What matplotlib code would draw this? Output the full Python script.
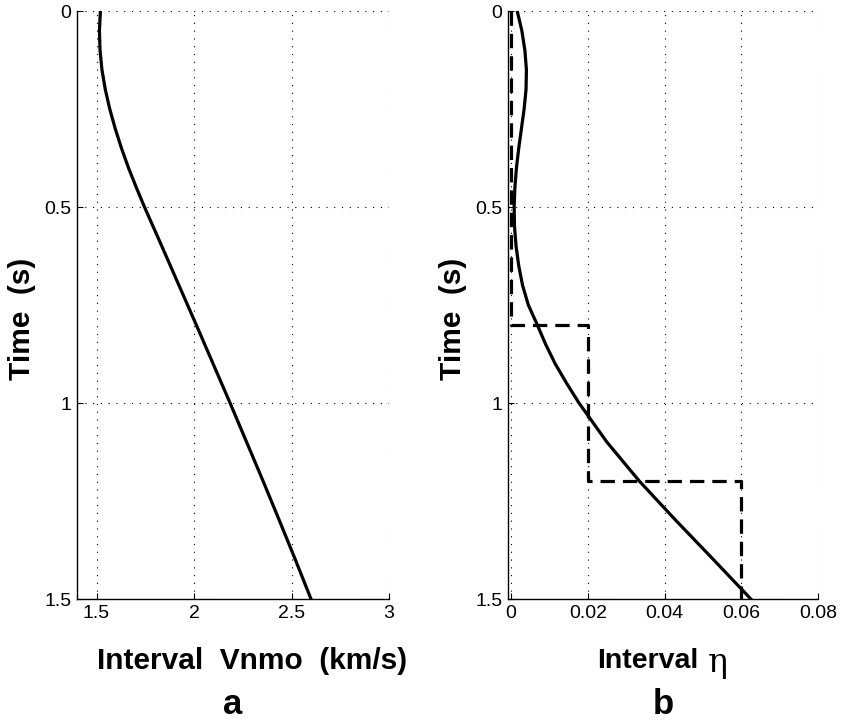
import numpy as np
import matplotlib
matplotlib.use("Agg")
import matplotlib.pyplot as plt

plt.rcParams['font.family'] = ['Liberation Sans', 'DejaVu Sans']

# donnees
t_vnmo = [0, 0.05, 0.1, 0.15, 0.2, 0.25, 0.3, 0.35, 0.4, 0.45, 0.5, 0.6,
          0.7, 0.8, 0.9, 1.0, 1.1, 1.2, 1.3, 1.4, 1.5]
vnmo = [1.52, 1.515, 1.518, 1.528, 1.545, 1.568, 1.596, 1.628, 1.664, 1.704,
        1.746, 1.835, 1.923, 2.011, 2.098, 2.185, 2.27, 2.355, 2.438, 2.52,
        2.60]

t_eta = [0, 0.05, 0.1, 0.15, 0.2, 0.25, 0.3, 0.35, 0.4, 0.45, 0.5, 0.55,
         0.6, 0.65, 0.7, 0.75, 0.8, 0.85, 0.9, 0.95, 1.0, 1.1, 1.2, 1.3,
         1.4, 1.5]
eta = [0.0016, 0.0028, 0.0036, 0.004, 0.0039, 0.0034, 0.0027, 0.002,
       0.0014, 0.001, 0.0008, 0.0009, 0.0013, 0.002, 0.003, 0.0045, 0.0068,
       0.009, 0.0115, 0.0145, 0.0177, 0.025, 0.0335, 0.043, 0.0528, 0.0625]

# modele par couches (tirets)
t_layers = [0, 0.8, 1.2, 1.5]
eta_layers = [0, 0.02, 0.06]

yticks = [0, 0.5, 1, 1.5]
ytick_labels = ["0", "0.5", "1", "1.5"]
xticks_a = [1.5, 2, 2.5, 3]
xtick_labels_a = ["1.5", "2", "2.5", "3"]
xticks_b = [0, 0.02, 0.04, 0.06, 0.08]
xtick_labels_b = ["0", "0.02", "0.04", "0.06", "0.08"]

W, H = 841, 723
fig = plt.figure(figsize=(W / 100, H / 100), dpi=100)
ax1 = fig.add_axes([77 / W, (H - 599) / H, 312 / W, 588 / H])
ax2 = fig.add_axes([508 / W, (H - 599) / H, 310 / W, 588 / H])


def style(ax, width):
    for s in ["top", "right"]:
        ax.spines[s].set_visible(False)
    for s in ["left", "bottom"]:
        ax.spines[s].set_linewidth(1.0)
    ax.tick_params(direction="in", length=4, width=0.8, labelsize=14,
                   top=False, right=False, pad=4)
    ax.grid(True, color="k", linestyle=(0, (1, 6)), linewidth=0.8)
    ax.set_axisbelow(True)
    ax.set_ylim(1.5, 0)
    ax.set_yticks(yticks)
    ax.set_yticklabels(ytick_labels)
    ax.set_ylabel("Time  (s)", fontsize=21.5, fontweight="bold")
    ax.yaxis.set_label_coords(-41 / width, 1 - (319 - 11) / 588)


# panneau a
ax1.plot(vnmo, t_vnmo, color="k", linewidth=2.3)
ax1.set_xlim(1.4, 3)
ax1.set_xticks(xticks_a)
ax1.set_xticklabels(xtick_labels_a)
style(ax1, 312)
ax1.set_xlabel("Interval  Vnmo  (km/s)", fontsize=21.5, fontweight="bold")
ax1.xaxis.set_label_coords((252 - 77) / 312, -48 / 588)

# panneau b
ax2.step(eta_layers + [eta_layers[-1]], t_layers, where="pre", color="k",
         linewidth=2.3, linestyle=(0, (4.5, 2.5)))
ax2.plot(eta, t_eta, color="k", linewidth=2.3)
ax2.set_xlim(-0.0008, 0.08)
ax2.set_xticks(xticks_b)
ax2.set_xticklabels(xtick_labels_b)
style(ax2, 310)
ax2.set_xlabel("Interval", fontsize=20.5, fontweight="bold")
ax2.xaxis.set_label_coords((648 - 508) / 310, -49 / 588)
# eta en police serif, plus grand
fig.text(708 / W, 1 - 672 / H, "\u03b7", fontsize=24, family="DejaVu Serif",
         ha="left", va="baseline")

fig.text(233 / W, 1 - 705 / H, "a", fontsize=25, fontweight="bold",
         ha="center", va="center")
fig.text(663 / W, 1 - 705 / H, "b", fontsize=25, fontweight="bold",
         ha="center", va="center")

fig.savefig("out.png", dpi=100)
